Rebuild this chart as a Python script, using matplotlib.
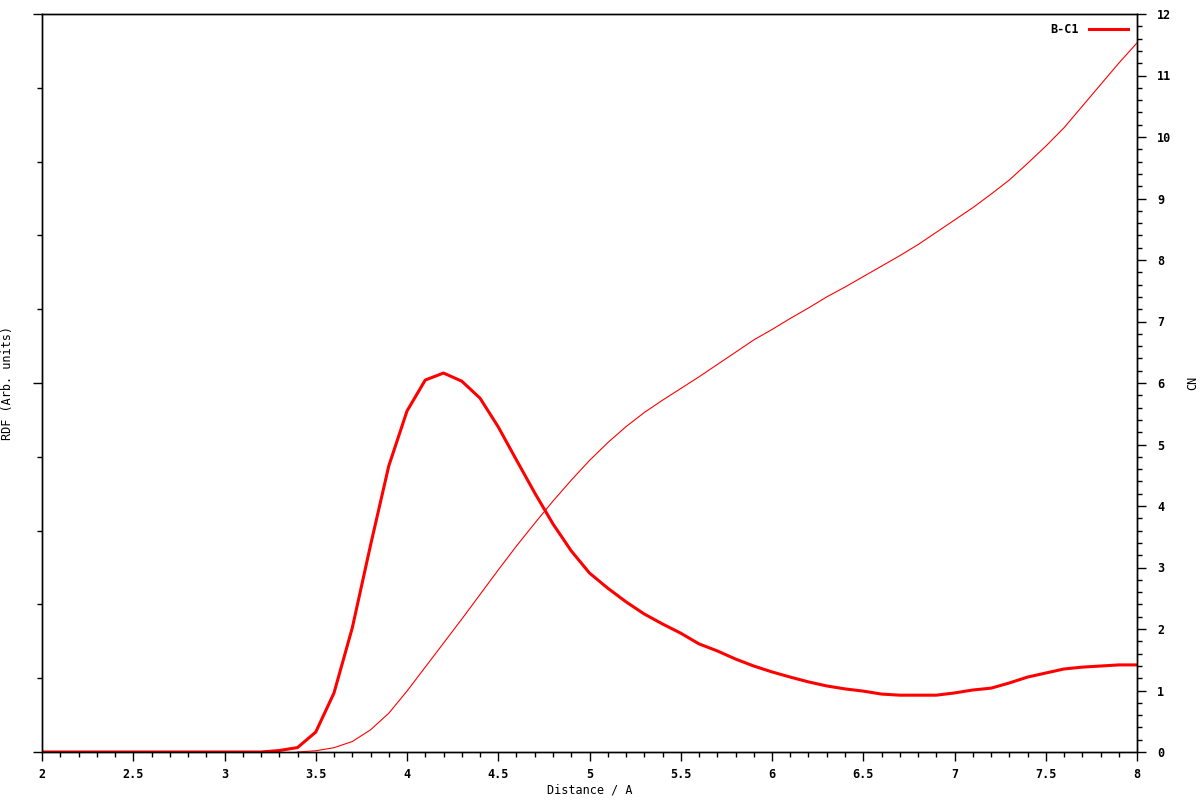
import numpy as np
import matplotlib
matplotlib.use("Agg")
import matplotlib.pyplot as plt
from matplotlib.ticker import MultipleLocator, NullFormatter

# distance grid (A) and values
r = [2.0, 2.1, 2.2, 2.3, 2.4, 2.5, 2.6, 2.7, 2.8, 2.9,
     3.0, 3.1, 3.2, 3.3, 3.4, 3.5, 3.6, 3.7, 3.8, 3.9,
     4.0, 4.1, 4.2, 4.3, 4.4, 4.5, 4.6, 4.7, 4.8, 4.9,
     5.0, 5.1, 5.2, 5.3, 5.4, 5.5, 5.6, 5.7, 5.8, 5.9,
     6.0, 6.1, 6.2, 6.3, 6.4, 6.5, 6.6, 6.7, 6.8, 6.9,
     7.0, 7.1, 7.2, 7.3, 7.4, 7.5, 7.6, 7.7, 7.8, 7.9, 8.0]

rdf = [0, 0, 0, 0, 0, 0, 0, 0, 0, 0,
       0, 0, 0, 0.004, 0.012, 0.054, 0.160, 0.336, 0.560, 0.775,
       0.924, 1.008, 1.027, 1.005, 0.959, 0.881, 0.791, 0.702, 0.618, 0.545,
       0.485, 0.444, 0.407, 0.374, 0.347, 0.322, 0.293, 0.274, 0.252, 0.233,
       0.217, 0.203, 0.190, 0.179, 0.171, 0.165, 0.157, 0.154, 0.154, 0.154,
       0.160, 0.168, 0.173, 0.187, 0.203, 0.214, 0.225, 0.230, 0.233, 0.236, 0.236]

cn_r = r[14:]
cn = [0.0, 0.02, 0.07, 0.17, 0.36, 0.63,
      0.99, 1.38, 1.77, 2.16, 2.56, 2.96, 3.35, 3.72, 4.08, 4.42,
      4.74, 5.03, 5.29, 5.52, 5.72, 5.91, 6.10, 6.30, 6.50, 6.70,
      6.87, 7.05, 7.22, 7.40, 7.56, 7.73, 7.90, 8.07, 8.25, 8.45,
      8.65, 8.85, 9.07, 9.30, 9.57, 9.85, 10.15, 10.50, 10.85, 11.20, 11.53]

plt.rcParams['font.family'] = 'DejaVu Sans Mono'
plt.rcParams['font.weight'] = 'bold'
plt.rcParams['font.size'] = 8.5

fig = plt.figure(figsize=(12, 8), dpi=100)
ax = fig.add_axes([42/1200, 48/800, (1137-42)/1200, (752-14)/800])
ax2 = ax.twinx()

ax.plot(r, rdf, color='#ff0000', lw=2.2, label='B-C1')
ax2.plot(cn_r, cn, color='#ff0000', lw=0.8)

ax.set_xlim(2, 8)
ax.set_ylim(0, 2)
ax2.set_ylim(0, 12)

ax.xaxis.set_minor_locator(MultipleLocator(0.1))
ax.set_xticks([2, 2.5, 3, 3.5, 4, 4.5, 5, 5.5, 6, 6.5, 7, 7.5, 8])
ax.set_xticklabels(['2', '2.5', '3', '3.5', '4', '4.5', '5', '5.5', '6', '6.5', '7', '7.5', '8'])
ax.yaxis.set_major_locator(MultipleLocator(1))
ax.yaxis.set_minor_locator(MultipleLocator(0.2))
ax.yaxis.set_major_formatter(NullFormatter())
ax2.yaxis.set_major_locator(MultipleLocator(1))
ax2.yaxis.set_minor_locator(MultipleLocator(0.2))

for a in (ax, ax2):
    a.tick_params(which='major', direction='out', length=6.5, width=1, pad=5, colors='black')
    a.tick_params(which='minor', direction='out', length=3.6, width=1)
    for s in a.spines.values():
        s.set_linewidth(1)
ax2.tick_params(axis='y', which='major', pad=8)

ax.set_xlabel('Distance / A', labelpad=2)
ax.set_ylabel('RDF (Arb. units)')
ax.yaxis.set_label_coords((14 - 42) / 1095, 0.5)
ax2.set_ylabel('CN')
ax2.yaxis.set_label_coords((1186 - 42) / 1095, 0.5)

ax.legend(loc='upper right', frameon=False, markerfirst=False,
          handlelength=3.3, borderaxespad=0.4, handletextpad=0.8)

fig.savefig('out.png', dpi=100)
